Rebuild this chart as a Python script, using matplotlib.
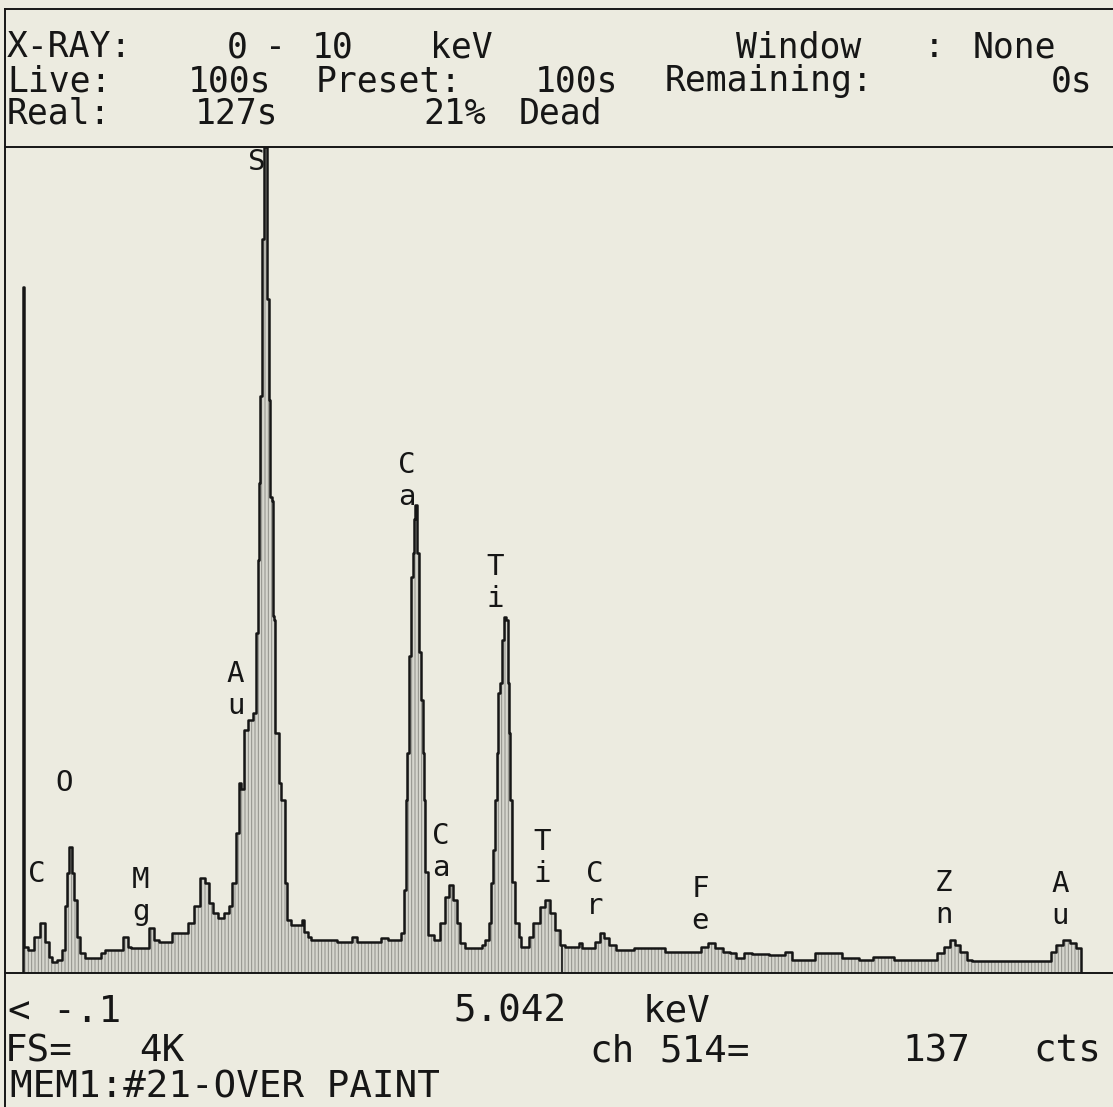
import matplotlib
matplotlib.use("Agg")
import matplotlib.pyplot as plt
from matplotlib.lines import Line2D

# EDS spectrum (energy in keV, counts per channel)
energy_kev = [0.10, 0.10, 0.12, 0.17, 0.24, 0.28, 0.33, 0.35, 0.39, 0.44,
              0.47, 0.50, 0.51, 0.54, 0.56, 0.58, 0.61, 0.64, 0.69, 0.81,
              0.83, 0.87, 0.99, 1.04, 1.08, 1.11, 1.24, 1.28, 1.33, 1.36,
              1.45, 1.48, 1.60, 1.63, 1.70, 1.75, 1.79, 1.82, 1.86, 1.91,
              1.97, 2.00, 2.03, 2.07, 2.09, 2.11, 2.14, 2.18, 2.23, 2.25,
              2.26, 2.27, 2.28, 2.30, 2.32, 2.33, 2.35, 2.36, 2.37, 2.39,
              2.40, 2.41, 2.42, 2.44, 2.45, 2.48, 2.52, 2.53, 2.58, 2.64,
              2.67, 2.69, 2.73, 2.76, 2.94, 3.01, 3.10, 3.13, 3.19, 3.25,
              3.37, 3.40, 3.49, 3.56, 3.58, 3.60, 3.62, 3.63, 3.65, 3.67,
              3.68, 3.69, 3.70, 3.73, 3.74, 3.76, 3.77, 3.78, 3.80, 3.83,
              3.90, 3.94, 3.99, 4.03, 4.06, 4.09, 4.13, 4.18, 4.29, 4.32,
              4.36, 4.38, 4.40, 4.41, 4.44, 4.45, 4.46, 4.48, 4.50, 4.52,
              4.54, 4.55, 4.56, 4.57, 4.59, 4.63, 4.66, 4.68, 4.73, 4.75,
              4.81, 4.87, 4.91, 4.96, 5.00, 5.04, 5.09, 5.18, 5.21, 5.23,
              5.33, 5.36, 5.41, 5.45, 5.50, 5.57, 5.64, 5.76, 5.82, 5.97,
              6.00, 6.12, 6.28, 6.35, 6.40, 6.49, 6.55, 6.61, 6.67, 6.74,
              6.83, 7.04, 7.13, 7.16, 7.34, 7.38, 7.59, 7.62, 7.75, 7.77,
              7.89, 7.90, 8.07, 8.10, 8.44, 8.51, 8.57, 8.62, 8.66, 8.72,
              8.78, 8.81, 9.51, 9.54, 9.59, 9.67, 9.73, 9.77, 9.80, 9.80]
counts = [0, 3400, 130, 115, 180, 250, 155, 80, 55, 65,
          115, 330, 495, 625, 495, 360, 180, 100, 75, 75,
          100, 115, 115, 180, 130, 125, 125, 225, 165, 155,
          155, 200, 200, 250, 330, 470, 445, 345, 300, 275,
          300, 330, 445, 695, 940, 910, 1205, 1255, 1290, 1685,
          2050, 2430, 2860, 3640, 4096, 4096, 3340, 2840, 2360, 2340,
          1770, 1750, 1190, 1190, 940, 860, 445, 265, 240, 240,
          265, 205, 180, 165, 165, 155, 155, 180, 155, 155,
          155, 175, 165, 165, 200, 410, 860, 1090, 1570, 1965,
          2085, 2250, 2320, 2085, 1590, 1355, 1090, 860, 500, 190,
          165, 250, 375, 435, 360, 250, 150, 125, 125, 140,
          165, 250, 445, 610, 860, 1090, 1390, 1440, 1650, 1765,
          1750, 1440, 1190, 860, 450, 250, 180, 130, 130, 180,
          250, 325, 360, 300, 215, 137, 130, 130, 150, 125,
          125, 155, 200, 175, 140, 115, 115, 125, 125, 125,
          105, 105, 105, 130, 150, 125, 105, 100, 75, 100,
          95, 90, 105, 65, 65, 100, 100, 75, 75, 65,
          65, 80, 80, 65, 65, 100, 130, 165, 140, 105,
          65, 60, 60, 105, 140, 165, 150, 125, 125, 0]

# element markers: text, energy of label, counts at label centre
label_text = ["C", "O", "M\ng", "A\nu", "S", "C\na", "C\na", "T\ni", "T\ni",
              "C\nr", "F\ne", "Z\nn", "A\nu"]
label_kev = [0.23, 0.48, 1.18, 2.05, 2.24, 3.62, 3.93, 4.43, 4.86,
             5.34, 6.31, 8.54, 9.61]
label_cts = [491, 942, 382, 1404, 4023, 2440, 600, 1934, 570,
             412, 337, 367, 362]

cursor_kev = 5.042
cursor_cts = 137
full_scale = 4096

# header / footer text: (text, x px, baseline px)
header_text = [
    ("X-RAY:", 7, 57), ("0", 227, 57), ("-", 265, 57), ("10", 312, 57),
    ("keV", 430, 57), ("Window", 736, 57), (":", 924, 57), ("None", 973, 57),
    ("Live:", 7, 91), ("100s", 188, 91), ("Preset:", 316, 91),
    ("100s", 535, 91), ("Remaining:", 665, 91), ("0s", 1051, 91),
    ("Real:", 7, 124), ("127s", 195, 124), ("21%", 423, 124), ("Dead", 519, 124),
]
footer_text = [
    ("< -.1", 8, 1022), ("5.042", 453, 1022), ("keV", 643, 1022),
    ("FS=", 5, 1061), ("4K", 139, 1061), ("ch", 589, 1061),
    ("514=", 659, 1061), ("137", 902, 1061), ("cts", 1033, 1061),
    ("MEM1:#21-OVER PAINT", 10, 1097),
]

W, H = 1113, 1107
paper = "#ecebe0"
ink = "#161616"
mono = ["DejaVu Sans Mono"]
plt.rcParams["hatch.linewidth"] = 0.7

fig = plt.figure(figsize=(W / 100, H / 100), dpi=100, facecolor=paper)

# spectrum window: x 5..1113 px, y 147..973 px ; 109.1 px per keV, 0 keV at x=12
left_px, top_px, base_px = 5, 147, 973
ax = fig.add_axes([left_px / W, 1 - base_px / H, 1 - left_px / W, (base_px - top_px) / H])
ax.set_facecolor(paper)
ax.set_xlim((left_px - 12) / 109.1, (W - 12) / 109.1)
ax.set_ylim(0, full_scale)

ax.fill_between(energy_kev, counts, step="mid", facecolor="#d6d6ce",
                edgecolor="#8f8f88", hatch="|||||", linewidth=0)
ax.plot(energy_kev, counts, drawstyle="steps-mid", color=ink, lw=1.8)
ax.vlines(cursor_kev, 0, cursor_cts, color=ink, lw=1.2)

for txt, ek, ct in zip(label_text, label_kev, label_cts):
    ax.text(ek, ct, txt, ha="center", va="center", fontsize=21,
            family=mono, color=ink, linespacing=1.15, clip_on=False)

ax.set_xticks([])
ax.set_yticks([])
for side in ["left", "right"]:
    ax.spines[side].set_visible(False)
for side in ["top", "bottom"]:
    ax.spines[side].set_linewidth(1.4)
    ax.spines[side].set_color(ink)

# screen frame
fig.add_artist(Line2D([left_px / W, left_px / W], [0, 1 - 9 / H],
                      transform=fig.transFigure, color=ink, lw=1.4))
fig.add_artist(Line2D([left_px / W, 1], [1 - 9 / H, 1 - 9 / H],
                      transform=fig.transFigure, color=ink, lw=1.4))

for txt, x, y in header_text:
    fig.text(x / W, 1 - y / H, txt, ha="left", va="baseline", fontsize=25,
             family=mono, color=ink)
for txt, x, y in footer_text:
    fig.text(x / W, 1 - y / H, txt, ha="left", va="baseline", fontsize=27,
             family=mono, color=ink)

plt.savefig("out.png", dpi=100, facecolor=paper)
